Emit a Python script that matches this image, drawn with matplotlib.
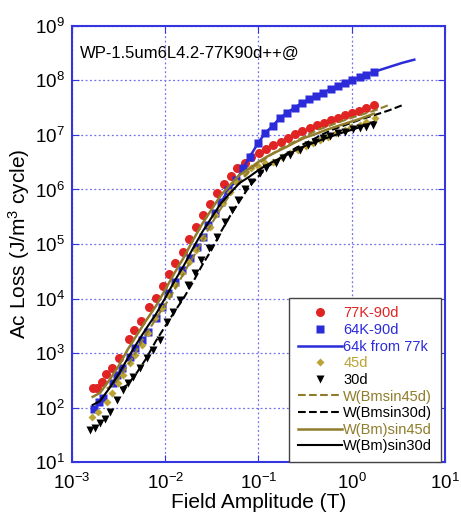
import numpy as np
import matplotlib
matplotlib.use("Agg")
import matplotlib.pyplot as plt

plt.rcParams['font.family'] = ['Liberation Sans', 'DejaVu Sans']
plt.rcParams['mathtext.default'] = 'regular'

# 77K-90d measured
b_77 = [1.67e-3, 1.85e-3, 2.10e-3, 2.33e-3, 2.69e-3, 3.17e-3, 4.06e-3, 4.66e-3, 5.53e-3, 6.64e-3,
        7.94e-3, 9.38e-3, 1.10e-2, 1.29e-2, 1.55e-2, 1.79e-2, 2.13e-2, 2.52e-2, 3.01e-2, 3.56e-2,
        4.26e-2, 5.06e-2, 5.92e-2, 7.14e-2, 8.43e-2, 0.102, 0.120, 0.144, 0.173, 0.208,
        0.245, 0.294, 0.356, 0.420, 0.506, 0.607, 0.714, 0.843, 1.02, 1.20, 1.44, 1.73]
q_77 = [225, 231, 297, 412, 525, 820, 1780, 2630, 3930, 6920,
        1.02e4, 1.70e4, 2.82e4, 4.47e4, 7.24e4, 1.25e5, 2.07e5, 3.37e5, 5.42e5, 8.51e5,
        1.26e6, 1.77e6, 2.45e6, 3.10e6, 3.89e6, 4.61e6, 5.47e6, 6.46e6, 7.53e6, 8.81e6,
        1.03e7, 1.20e7, 1.33e7, 1.51e7, 1.68e7, 1.88e7, 2.07e7, 2.30e7, 2.50e7, 2.75e7, 3.09e7, 3.47e7]

# 64K-90d measured
b_64 = [1.74e-3, 1.93e-3, 2.16e-3, 2.77e-3, 3.06e-3, 3.44e-3, 4.19e-3, 4.73e-3, 5.58e-3, 6.58e-3,
        7.89e-3, 9.14e-3, 1.08e-2, 1.27e-2, 1.50e-2, 1.84e-2, 2.17e-2, 2.55e-2, 2.89e-2, 3.41e-2,
        4.02e-2, 4.73e-2, 5.82e-2, 6.86e-2, 8.09e-2, 9.93e-2, 0.117, 0.142, 0.169, 0.203,
        0.245, 0.290, 0.349, 0.412, 0.493, 0.597, 0.714, 0.843, 1.02, 1.22, 1.44, 1.73]
q_64 = [95, 128, 148, 278, 394, 524, 845, 1220, 1730, 2460,
        4340, 7080, 1.24e4, 2.03e4, 3.33e4, 5.47e4, 8.91e4, 1.36e5, 2.23e5, 3.66e5,
        5.97e5, 9.79e5, 1.49e6, 2.45e6, 4.0e6, 7.08e6, 1.07e7, 1.46e7, 2.02e7, 2.56e7,
        3.17e7, 3.82e7, 4.52e7, 5.2e7, 5.97e7, 6.9e7, 7.93e7, 9.12e7, 1.02e8, 1.15e8, 1.26e8, 1.43e8]

# 64k from 77k (scaled line)
b_64f = [4.02e-2, 4.73e-2, 5.82e-2, 6.86e-2, 8.09e-2, 9.93e-2, 0.117, 0.142, 0.169, 0.203,
         0.245, 0.290, 0.349, 0.412, 0.493, 0.597, 0.714, 0.843, 1.02, 1.22, 1.44, 1.73, 2.5, 3.5, 4.7]
q_64f = [5.97e5, 9.79e5, 1.49e6, 2.45e6, 4.0e6, 7.08e6, 1.07e7, 1.46e7, 2.02e7, 2.56e7,
         3.17e7, 3.82e7, 4.52e7, 5.2e7, 5.97e7, 6.9e7, 7.93e7, 9.12e7, 1.02e8, 1.15e8, 1.26e8, 1.43e8,
         1.75e8, 2.1e8, 2.4e8]

# 45d measured
b_45 = [1.63e-3, 1.91e-3, 2.36e-3, 2.67e-3, 3.13e-3, 3.55e-3, 4.19e-3, 4.73e-3, 5.58e-3, 6.58e-3,
        7.76e-3, 9.14e-3, 1.08e-2, 1.27e-2, 1.50e-2, 1.81e-2, 2.13e-2, 2.52e-2, 3.01e-2, 3.41e-2,
        4.19e-2, 4.93e-2, 5.82e-2, 7.14e-2, 8.43e-2, 9.93e-2, 0.119, 0.144, 0.177, 0.217,
        0.267, 0.322, 0.385, 0.455, 0.558, 0.687, 0.843, 0.995, 1.22, 1.44, 1.77]
q_45 = [66, 83.8, 128, 182, 278, 394, 647, 918, 1400, 2300,
        4340, 6610, 1.16e4, 1.77e4, 2.90e4, 4.73e4, 7.76e4, 1.27e5, 2.07e5, 3.40e5,
        5.58e5, 9.12e5, 1.39e6, 1.98e6, 2.45e6, 2.69e6, 3.02e6, 3.24e6, 3.98e6, 4.57e6,
        5.31e6, 6.17e6, 7.08e6, 8.13e6, 9.33e6, 1.07e7, 1.23e7, 1.38e7, 1.51e7, 1.76e7, 2.04e7]

# 30d measured
b_30 = [1.58e-3, 1.76e-3, 2.00e-3, 2.26e-3, 2.55e-3, 3.01e-3, 3.55e-3, 4.01e-3, 4.54e-3, 5.36e-3,
        6.32e-3, 7.43e-3, 8.77e-3, 1.035e-2, 1.22e-2, 1.44e-2, 1.77e-2, 2.08e-2, 2.45e-2, 2.96e-2,
        3.56e-2, 4.37e-2, 5.15e-2, 6.05e-2, 7.14e-2, 8.43e-2, 0.1035, 0.122, 0.156, 0.184,
        0.217, 0.278, 0.341, 0.403, 0.493, 0.582, 0.714, 0.843, 1.035, 1.22, 1.44, 1.69]
q_30 = [38.6, 41.5, 51.3, 63.1, 83.8, 137, 209, 278, 367, 524,
        800, 1135, 1734, 3750, 5730, 9380, 1.77e4, 2.90e4, 5.08e4, 8.34e4,
        1.33e5, 2.56e5, 4.21e5, 6.41e5, 1.01e6, 1.39e6, 1.98e6, 2.45e6, 3.02e6, 3.73e6,
        4.30e6, 5.31e6, 6.56e6, 7.53e6, 8.69e6, 9.59e6, 1.07e7, 1.15e7, 1.27e7, 1.33e7, 1.42e7, 1.52e7]

# model curves
b_w = [1.67e-3, 2.00e-3, 2.51e-3, 3.16e-3, 3.98e-3, 5.01e-3, 6.31e-3, 7.94e-3, 1.0e-2, 1.26e-2,
       1.58e-2, 2.0e-2, 2.51e-2, 3.16e-2, 3.98e-2, 5.01e-2, 6.31e-2, 7.94e-2, 0.1, 0.126,
       0.158, 0.2, 0.251, 0.316, 0.398, 0.501, 0.631, 0.794, 1.0, 1.26, 1.73]
q_w45 = [158, 186, 316, 575, 1175, 2190, 4070, 7240, 1.45e4, 2.95e4,
         5.62e4, 1.20e5, 2.37e5, 4.37e5, 7.94e5, 1.23e6, 1.86e6, 2.40e6, 3.20e6, 4.07e6,
         4.95e6, 6.03e6, 7.41e6, 8.91e6, 1.02e7, 1.19e7, 1.36e7, 1.55e7, 1.76e7, 2.0e7, 2.45e7]
q_w30 = [112, 132, 224, 407, 813, 1550, 2880, 5130, 1.02e4, 2.09e4,
         3.98e4, 8.51e4, 1.68e5, 3.09e5, 5.62e5, 8.71e5, 1.32e6, 1.70e6, 2.26e6, 2.88e6,
         3.50e6, 4.27e6, 5.25e6, 6.31e6, 7.24e6, 8.41e6, 9.64e6, 1.10e7, 1.24e7, 1.41e7, 1.73e7]
q_wb = [224, 263, 447, 813, 1660, 3090, 5750, 1.02e4, 2.04e4, 4.17e4,
        7.94e4, 1.70e5, 3.35e5, 6.17e5, 1.12e6, 1.74e6, 2.63e6, 3.39e6, 4.52e6, 5.75e6,
        7.0e6, 8.51e6, 1.05e7, 1.26e7, 1.45e7, 1.68e7, 1.93e7, 2.19e7, 2.48e7, 2.82e7, 3.47e7]
b_wb45 = [2.36e-3, 2.82e-3, 3.55e-3, 4.47e-3, 5.62e-3, 7.08e-3, 8.91e-3, 1.12e-2, 1.41e-2, 1.78e-2,
          2.24e-2, 2.82e-2, 3.55e-2, 4.47e-2, 5.62e-2, 7.08e-2, 8.91e-2, 0.112, 0.141, 0.178,
          0.224, 0.282, 0.355, 0.447, 0.562, 0.708, 0.891, 1.12, 1.41, 1.78, 2.44]
b_wb30 = [3.33e-3, 3.98e-3, 5.01e-3, 6.31e-3, 7.94e-3, 1.0e-2, 1.26e-2, 1.58e-2, 2.0e-2, 2.51e-2,
          3.16e-2, 3.98e-2, 5.01e-2, 6.31e-2, 7.94e-2, 0.1, 0.126, 0.158, 0.2, 0.251,
          0.316, 0.398, 0.501, 0.631, 0.794, 1.0, 1.26, 1.58, 2.0, 2.51, 3.44]

RED = '#e02424'
BLUE = '#2b2bd9'
GOLD = '#bba335'
OLIVE = '#8f7d2c'
AXBLUE = '#3535e0'

fig = plt.figure(figsize=(4.61, 5.17), dpi=100)
ax = fig.add_axes([0.156, 0.106, 0.809, 0.844])

ax.plot(b_77, q_77, 'o', color=RED, ms=6.5, mec='none', label='77K-90d')
ax.plot(b_64, q_64, 's', color=BLUE, ms=5.5, mec='none', label='64K-90d')
ax.plot(b_64f, q_64f, '-', color=BLUE, lw=1.8, label='64k from 77k')
ax.plot(b_45, q_45, 'D', color=GOLD, ms=4.5, mec='none', label='45d')
ax.plot(b_30, q_30, 'v', color='black', ms=6, mec='none', label='30d')
ax.plot(b_wb45, q_wb, '--', color=OLIVE, lw=1.5, label='W(Bmsin45d)')
ax.plot(b_wb30, q_wb, '--', color='black', lw=1.5, label='W(Bmsin30d)')
ax.plot(b_w, q_w45, '-', color=OLIVE, lw=1.8, label='W(Bm)sin45d')
ax.plot(b_w, q_w30, '-', color='black', lw=1.5, label='W(Bm)sin30d')

ax.set_xscale('log')
ax.set_yscale('log')
ax.set_xlim(1e-3, 10)
ax.set_ylim(10, 1e9)
ax.minorticks_off()
ax.grid(True, color='#7070ee', ls=(0, (1.5, 2)), lw=0.9)
for s in ax.spines.values():
    s.set_color(AXBLUE)
    s.set_linewidth(1.5)
ax.tick_params(direction='in', length=5, color=AXBLUE, top=True, right=True,
               labelsize=13.5)
ax.tick_params(axis='x', pad=8)
ax.tick_params(axis='y', pad=5)

ax.set_xlabel('Field Amplitude (T)', fontsize=15, labelpad=0)
ax.set_ylabel('Ac Loss (J/m$^3$ cycle)', fontsize=15, labelpad=2)
ax.text(0.022, 0.955, 'WP-1.5um6L4.2-77K90d++@', transform=ax.transAxes,
        fontsize=12, va='top', ha='left')

leg = ax.legend(loc='lower right', bbox_to_anchor=(0.99, 0.0), fontsize=10.5,
                frameon=True, fancybox=False, framealpha=1, edgecolor='#444444',
                handlelength=3.0, handletextpad=0.1, labelspacing=0.18,
                borderpad=0.6, borderaxespad=0.0)
leg.get_frame().set_linewidth(1.0)
txt_colors = [RED, BLUE, BLUE, GOLD, 'black', OLIVE, 'black', OLIVE, 'black']
for t, c in zip(leg.get_texts(), txt_colors):
    t.set_color(c)

fig.savefig('out.png', dpi=100)
